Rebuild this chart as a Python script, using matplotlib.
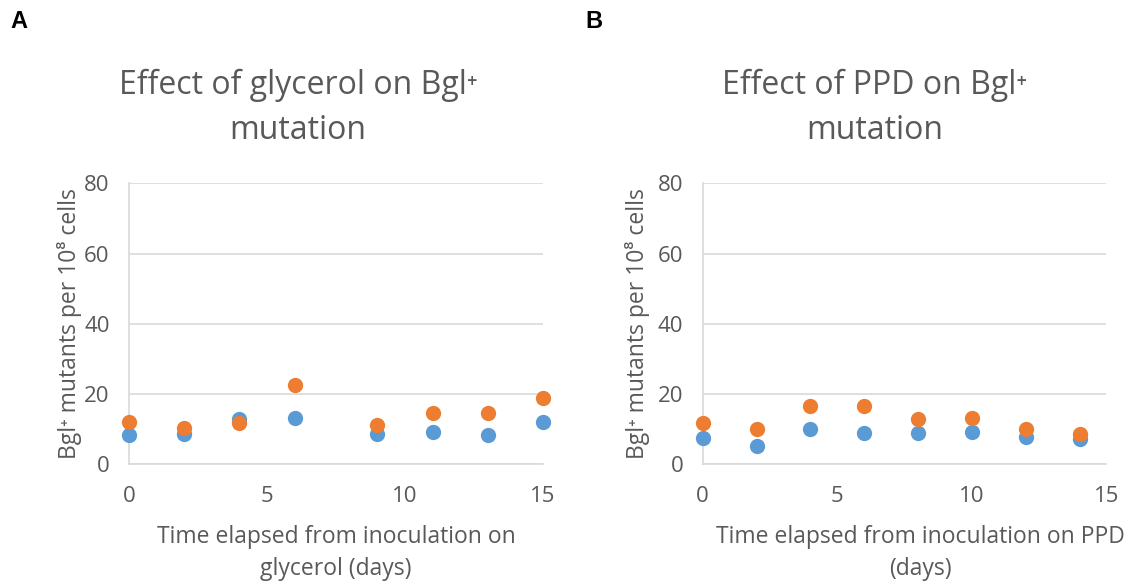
import matplotlib
matplotlib.use("Agg")
import matplotlib.pyplot as plt

plt.rcParams['font.family'] = ['Open Sans', 'DejaVu Sans']

# panel A - glycerol
days_a = [0, 2, 4, 6, 9, 11, 13, 15]
blue_a = [8.4, 8.6, 12.7, 13.2, 8.6, 9.0, 8.3, 12.0]
orange_a = [12.1, 10.4, 11.8, 22.5, 11.1, 14.4, 14.5, 18.8]

# panel B - PPD
days_b = [0, 2, 4, 6, 8, 10, 12, 14]
blue_b = [7.3, 5.1, 9.9, 8.9, 8.7, 9.2, 7.8, 7.0]
orange_b = [11.6, 9.9, 16.6, 16.4, 12.9, 13.2, 10.0, 8.5]

titles = ["Effect of glycerol on Bgl\u207a\nmutation", "Effect of PPD on Bgl\u207a\nmutation"]
xlabels = ["Time elapsed from inoculation on\nglycerol (days)",
           "Time elapsed from inoculation on PPD\n(days)"]
letters = ["A", "B"]
ylabel = "Bgl\u207a mutants per 10\u2078 cells"
yticks = [0, 20, 40, 60, 80]
xticks = [0, 5, 10, 15]

BLUE = "#5B9BD5"
ORANGE = "#ED7D31"
TXT = "#595959"
GRID = "#D9D9D9"

W, H = 1136, 581
fig = plt.figure(figsize=(W / 100, H / 100), dpi=100)
boxes = [[0.1136, 0.2014, 0.3644, 0.4828], [0.6186, 0.2014, 0.3554, 0.4828]]
data = [(days_a, blue_a, orange_a), (days_b, blue_b, orange_b)]
letter_x = [10, 585]
title_x = [298, 875]
xlabel_x = [0.5, 0.54]
ylabel_x = [-0.114, -0.13]

for i in range(2):
    ax = fig.add_axes(boxes[i])
    d, b, o = data[i]
    ax.plot(d, b, 'o', color=BLUE, ms=11, mec='none', clip_on=False, zorder=3)
    ax.plot(d, o, 'o', color=ORANGE, ms=11, mec='none', clip_on=False, zorder=4)
    ax.set_xlim(0, 15)
    ax.set_ylim(0, 80)
    ax.set_xticks(xticks)
    ax.set_yticks(yticks)
    ax.grid(axis='y', color=GRID, lw=1.2)
    ax.set_axisbelow(True)
    for s in ['top', 'right']:
        ax.spines[s].set_visible(False)
    for s in ['left', 'bottom']:
        ax.spines[s].set_color(GRID)
        ax.spines[s].set_linewidth(1.2)
    ax.tick_params(length=0, labelsize=16, labelcolor=TXT)
    ax.tick_params(axis='x', pad=16)
    ax.tick_params(axis='y', pad=14)
    ax.set_ylabel(ylabel, fontsize=16.5, color=TXT)
    ax.yaxis.set_label_coords(ylabel_x[i], 0.5)
    ax.set_xlabel(xlabels[i], fontsize=16.5, color=TXT, linespacing=1.45)
    ax.xaxis.set_label_coords(xlabel_x[i], -0.218)
    ax.xaxis.label.set_va('top')
    fig.text(title_x[i] / W, 1 - 108 / H, titles[i], fontsize=23, color=TXT,
             ha='center', va='center', linespacing=1.45)
    fig.text(letter_x[i] / W, 1 - 22 / H, letters[i], fontsize=17, fontweight='bold',
             family='Liberation Sans', color='black', va='center')

fig.savefig("out.png", dpi=100)
